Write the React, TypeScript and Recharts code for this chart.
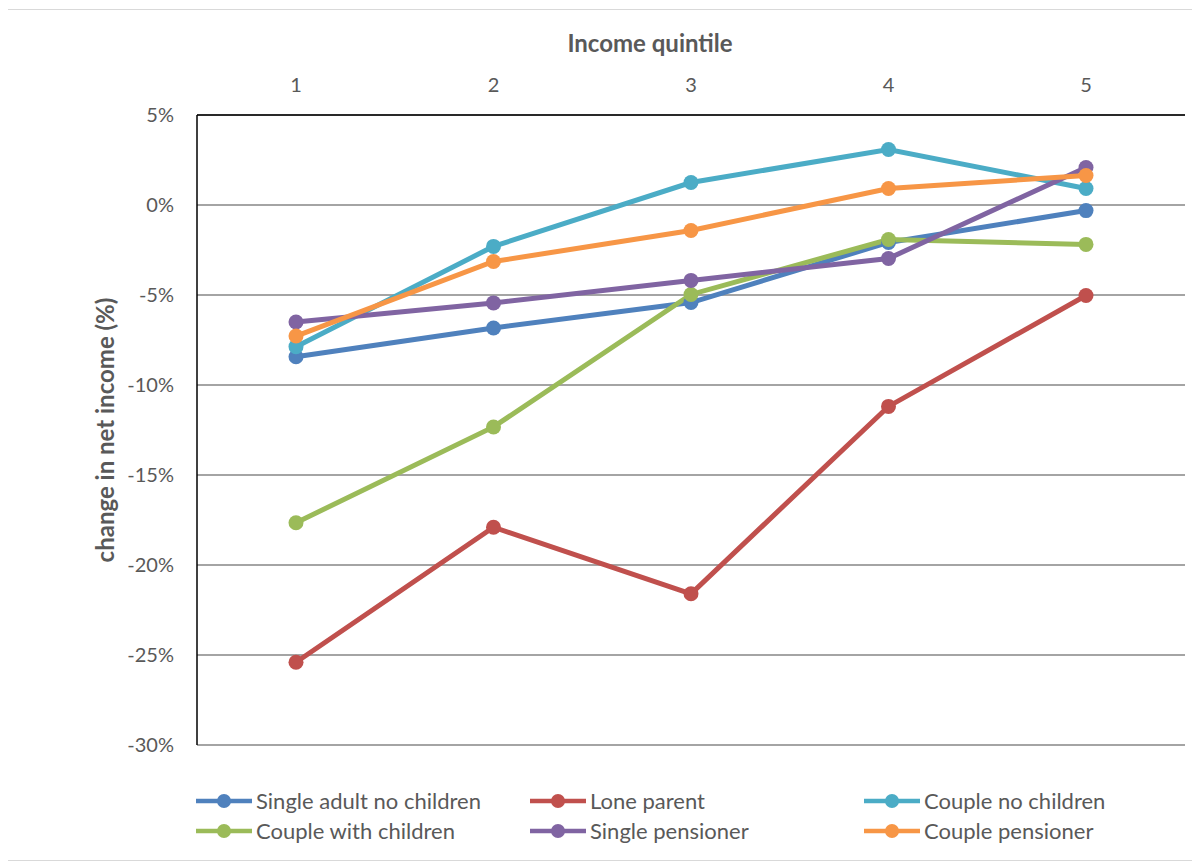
import React from 'react';
import { LineChart, Line, XAxis, YAxis, CartesianGrid, Legend, Label } from 'recharts';

const quintiles = ['1', '2', '3', '4', '5'];
const singleAdultNoChildren = [-8.43, -6.83, -5.42, -2.08, -0.31];
const loneParent = [-25.4, -17.9, -21.6, -11.19, -5.03];
const coupleNoChildren = [-7.87, -2.3, 1.25, 3.08, 0.92];
const coupleWithChildren = [-17.65, -12.33, -4.97, -1.92, -2.19];
const singlePensioner = [-6.5, -5.44, -4.19, -2.97, 2.08];
const couplePensioner = [-7.28, -3.14, -1.42, 0.92, 1.64];
const yTicks = [5, 0, -5, -10, -15, -20, -25, -30];

const FONT = 'Lato, "Open Sans", sans-serif';
const TEXT = '#595959';

const series = [
    { key: 'sanc', name: 'Single adult no children', color: '#4F81BD', values: singleAdultNoChildren },
    { key: 'lp', name: 'Lone parent', color: '#C0504D', values: loneParent },
    { key: 'cnc', name: 'Couple no children', color: '#4BACC6', values: coupleNoChildren },
    { key: 'cwc', name: 'Couple with children', color: '#9BBB59', values: coupleWithChildren },
    { key: 'sp', name: 'Single pensioner', color: '#8064A2', values: singlePensioner },
    { key: 'cp', name: 'Couple pensioner', color: '#F79646', values: couplePensioner },
];

const data = quintiles.map((q, i) => {
    const row: any = { q };
    series.forEach(s => { row[s.key] = s.values[i]; });
    return row;
});

const renderLegend = () => (
    <div style={{ position: 'relative', width: 1186, height: 70, fontFamily: FONT }}>
        {series.map((s, i) => (
            <div
                key={s.key}
                style={{
                    position: 'absolute',
                    left: 188 + (i % 3) * 334,
                    top: 5 + Math.floor(i / 3) * 30,
                    height: 30,
                    display: 'flex',
                    alignItems: 'center',
                }}
            >
                <svg width={56} height={16}>
                    <line x1={0} y1={8} x2={56} y2={8} stroke={s.color} strokeWidth={4.5} />
                    <circle cx={28} cy={8} r={7} fill={s.color} />
                </svg>
                <span style={{ marginLeft: 4, fontSize: 22, color: TEXT, whiteSpace: 'nowrap', lineHeight: '30px' }}>{s.name}</span>
            </div>
        ))}
    </div>
);

export default function App() {
    return (
        <div
            style={{
                width: 1186,
                height: 850,
                border: '1px solid #d9d9d9',
                marginLeft: -1,
                marginTop: 1,
                background: '#fff',
            }}
        >
            <LineChart
                width={1186}
                height={850}
                data={data}
                margin={{ top: 0, right: 9, left: 0, bottom: 45 }}
            >
                <CartesianGrid vertical={false} stroke="#868686" strokeWidth={1.5} />
                <XAxis
                    dataKey="q"
                    orientation="top"
                    height={105}
                    padding={{ left: 99, right: 99 }}
                    axisLine={{ stroke: '#000', strokeWidth: 1.5 }}
                    tickLine={false}
                    tickMargin={17}
                    tick={{ fill: TEXT, fontSize: 20, fontFamily: FONT }}
                >
                    <Label
                        value="Income quintile"
                        position="insideTop"
                        offset={25}
                        dx={-41}
                        style={{ fill: TEXT, fontSize: 24, fontWeight: 700, fontFamily: FONT }}
                    />
                </XAxis>
                <YAxis
                    type="number"
                    domain={[-30, 5]}
                    ticks={yTicks}
                    interval={0}
                    width={189}
                    tickFormatter={(v: number) => `${v}%`}
                    axisLine={{ stroke: '#000', strokeWidth: 1.5 }}
                    tickLine={false}
                    tickMargin={17}
                    tick={{ fill: TEXT, fontSize: 20, fontFamily: FONT }}
                >
                    <Label
                        value="change in net income (%)"
                        position="center"
                        angle={-90}
                        dx={2.5}
                        style={{ fill: TEXT, fontSize: 24, fontWeight: 700, fontFamily: FONT, textAnchor: 'middle' }}
                    />
                </YAxis>
                <Legend
                    verticalAlign="bottom"
                    content={renderLegend}
                    wrapperStyle={{ left: 0, bottom: 9, width: 1186 }}
                />
                {series.map(s => (
                    <Line
                        key={s.key}
                        type="linear"
                        dataKey={s.key}
                        name={s.name}
                        stroke={s.color}
                        strokeWidth={5}
                        dot={{ r: 7.5, fill: s.color, stroke: s.color, strokeWidth: 0 }}
                        activeDot={false}
                        isAnimationActive={false}
                    />
                ))}
            </LineChart>
        </div>
    );
}
